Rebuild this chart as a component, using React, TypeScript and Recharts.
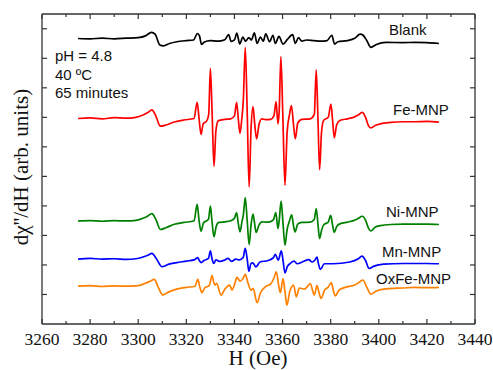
import React from "react";
import { LineChart, Line, XAxis, YAxis } from "recharts";

// field (Oe) / signal (arb. units, stacked offsets)
const blankH = [3275, 3280, 3285, 3290, 3295, 3300, 3303, 3305.5, 3307, 3309, 3310.5, 3313, 3316, 3320, 3323, 3324.6, 3325.5, 3326.3, 3327.5, 3330, 3333, 3336, 3337.6, 3338.6, 3340, 3341, 3342.2, 3343.5, 3344.6, 3346, 3347, 3348.3, 3349.4, 3350.8, 3352, 3353, 3354.6, 3356, 3357, 3358.5, 3360.2, 3362, 3364.2, 3365.3, 3366.6, 3368, 3370, 3373, 3376, 3378.5, 3380.5, 3381.6, 3383, 3387, 3390, 3392.3, 3393.5, 3395, 3396.7, 3399, 3403, 3410, 3415, 3420, 3425];
const blankY = [9.67, 9.66, 9.68, 9.66, 9.68, 9.70, 9.76, 9.88, 9.82, 9.45, 9.42, 9.50, 9.56, 9.60, 9.62, 9.84, 9.75, 9.47, 9.55, 9.60, 9.58, 9.63, 9.80, 9.57, 9.62, 9.85, 9.49, 9.72, 9.58, 9.70, 9.62, 9.86, 9.50, 9.72, 9.58, 9.83, 9.56, 9.78, 9.50, 9.74, 9.48, 9.64, 9.80, 9.50, 9.70, 9.58, 9.62, 9.60, 9.58, 9.60, 9.78, 9.48, 9.56, 9.60, 9.68, 9.82, 9.78, 9.60, 9.37, 9.47, 9.54, 9.53, 9.54, 9.53, 9.50];

const feH = [3275, 3280, 3285, 3290, 3295, 3299, 3302, 3304, 3305.7, 3307.3, 3309.2, 3311.5, 3315, 3319, 3323.2, 3324.5, 3325.3, 3326.1, 3327, 3328.5, 3329.3, 3330, 3330.7, 3331.5, 3332.3, 3333.3, 3336, 3338.4, 3340, 3340.9, 3341.6, 3342.3, 3343, 3343.7, 3344.5, 3345.3, 3346.1, 3346.9, 3347.7, 3348.4, 3349.2, 3350.2, 3351.4, 3353, 3355, 3356.4, 3357.3, 3358.1, 3358.6, 3359.3, 3360.1, 3361, 3361.9, 3362.9, 3363.7, 3364.5, 3365.3, 3366.3, 3368, 3371.5, 3373.2, 3374, 3374.7, 3375.4, 3376.2, 3377.1, 3379, 3380.1, 3380.8, 3381.5, 3382.5, 3384, 3387, 3389.5, 3391.5, 3393.1, 3394.5, 3395.7, 3396.7, 3398.5, 3400.6, 3405, 3410, 3415, 3420, 3425];
const feY = [6.96, 6.98, 6.95, 6.99, 6.97, 7.0, 7.08, 7.16, 7.25, 7.05, 6.70, 6.74, 6.84, 6.91, 6.96, 7.51, 6.95, 6.42, 6.78, 6.88, 7.1, 8.66, 7.2, 5.34, 6.55, 6.89, 6.93, 6.95, 7.05, 7.51, 6.95, 6.46, 6.9, 7.6, 9.37, 7.2, 4.64, 6.6, 7.36, 6.8, 6.27, 6.75, 6.95, 6.92, 6.93, 7.05, 7.53, 6.78, 7.2, 9.06, 7.1, 4.70, 6.5, 7.1, 7.40, 6.8, 6.27, 6.8, 6.93, 6.95, 7.1, 8.61, 7.0, 5.23, 6.5, 6.90, 7.0, 7.45, 6.9, 6.31, 6.75, 6.90, 6.95, 7.0, 7.08, 7.17, 7.0, 6.72, 6.64, 6.72, 6.78, 6.83, 6.85, 6.85, 6.86, 6.84];

const niH = [3275, 3280, 3285, 3290, 3295, 3299, 3302, 3304, 3305.7, 3307.3, 3309.2, 3311.5, 3315, 3319, 3323.2, 3324.5, 3325.3, 3326.1, 3327.1, 3329.2, 3330, 3330.7, 3331.5, 3332.4, 3333.5, 3336, 3338.5, 3340, 3340.9, 3341.6, 3342.3, 3343.1, 3343.7, 3344.5, 3345.3, 3346.1, 3346.9, 3347.7, 3348.4, 3349, 3350.2, 3351.4, 3353, 3355, 3356.3, 3357.2, 3358.1, 3358.6, 3359.4, 3360.2, 3361, 3361.9, 3362.9, 3363.8, 3364.5, 3365.2, 3366.3, 3368, 3371.5, 3373.2, 3374, 3374.7, 3375.4, 3376.3, 3377.2, 3379, 3380, 3380.8, 3381.5, 3382.5, 3384, 3387, 3389.5, 3391.5, 3393.1, 3394.5, 3395.7, 3396.7, 3398.5, 3400.6, 3405, 3410, 3415, 3420, 3425];
const niY = [3.49, 3.50, 3.48, 3.50, 3.49, 3.51, 3.58, 3.66, 3.74, 3.55, 3.20, 3.26, 3.38, 3.44, 3.49, 4.05, 3.50, 3.14, 3.42, 3.55, 3.99, 3.45, 2.95, 3.30, 3.44, 3.46, 3.50, 3.58, 3.77, 3.40, 3.12, 3.45, 3.70, 4.28, 3.5, 2.69, 3.35, 3.72, 3.40, 3.10, 3.35, 3.46, 3.45, 3.47, 3.55, 3.77, 3.23, 3.5, 4.16, 3.4, 2.67, 3.2, 3.5, 3.70, 3.35, 3.12, 3.38, 3.44, 3.45, 3.55, 3.91, 3.40, 2.89, 3.2, 3.37, 3.45, 3.68, 3.35, 3.10, 3.30, 3.40, 3.45, 3.50, 3.58, 3.65, 3.52, 3.25, 3.15, 3.28, 3.33, 3.37, 3.38, 3.38, 3.38, 3.37];

const mnH = [3275, 3280, 3285, 3290, 3295, 3299, 3302, 3304, 3305.7, 3307.5, 3309.9, 3312.5, 3316, 3320, 3323.5, 3324.7, 3325.4, 3326.2, 3327.3, 3329.2, 3330, 3330.7, 3331.4, 3332.3, 3334, 3336, 3337.4, 3338.8, 3340.6, 3342, 3343.6, 3344.5, 3345.3, 3346, 3346.9, 3347.7, 3348.9, 3350.6, 3354, 3356.2, 3357, 3358.2, 3359.5, 3360.2, 3361, 3362, 3363, 3364.8, 3366.1, 3368.2, 3370.9, 3372.3, 3373.5, 3374.3, 3374.9, 3375.7, 3377.4, 3381, 3388, 3391.5, 3393, 3394.5, 3396, 3398, 3402, 3410, 3415, 3420, 3425];
const mnY = [2.20, 2.22, 2.20, 2.21, 2.19, 2.21, 2.27, 2.33, 2.39, 2.22, 1.94, 2.02, 2.08, 2.13, 2.18, 2.25, 2.15, 2.08, 2.15, 2.22, 2.48, 2.20, 2.05, 2.17, 2.12, 2.17, 2.22, 2.12, 2.20, 2.17, 2.25, 2.56, 2.2, 1.79, 2.05, 2.07, 1.93, 2.10, 2.15, 2.25, 2.36, 2.16, 2.48, 2.15, 1.73, 1.95, 2.04, 2.13, 2.04, 2.10, 2.18, 2.10, 2.17, 2.27, 2.05, 1.85, 2.04, 2.04, 2.10, 2.21, 2.30, 2.15, 1.88, 1.96, 2.03, 2.05, 2.05, 2.05, 2.04];

const oxH = [3275, 3280, 3285, 3290, 3295, 3300, 3303, 3305, 3306.7, 3308.3, 3310.2, 3312.5, 3316, 3320, 3323.6, 3324.8, 3325.6, 3326.5, 3327.6, 3329.5, 3330.7, 3331.4, 3332, 3332.6, 3334.4, 3336, 3338, 3339, 3340.2, 3341, 3342.4, 3343.6, 3344.5, 3345.6, 3346.9, 3347.8, 3349.4, 3350.8, 3352.8, 3355, 3356.4, 3357.4, 3358.4, 3359.1, 3360.2, 3361, 3361.8, 3363, 3364.6, 3365.7, 3367, 3369, 3370.5, 3371.5, 3373.2, 3374.3, 3375.2, 3376, 3377.5, 3379, 3380.3, 3381.2, 3381.9, 3383.5, 3386, 3390, 3392, 3393.4, 3395, 3396.7, 3399, 3403, 3410, 3415, 3420, 3425];
const oxY = [1.28, 1.30, 1.27, 1.29, 1.28, 1.30, 1.38, 1.45, 1.51, 1.25, 0.98, 1.08, 1.18, 1.24, 1.28, 1.51, 1.25, 1.06, 1.22, 1.30, 1.64, 1.40, 1.32, 1.38, 0.98, 1.18, 1.32, 1.15, 1.38, 1.58, 1.45, 1.55, 1.68, 1.40, 1.15, 1.20, 0.72, 1.05, 1.26, 1.35, 1.55, 1.77, 1.30, 1.06, 1.54, 1.10, 0.64, 1.10, 1.32, 0.92, 1.22, 1.18, 1.28, 1.37, 0.98, 1.30, 1.05, 0.87, 1.15, 1.25, 1.40, 1.10, 0.95, 1.15, 1.24, 1.32, 1.42, 1.49, 1.25, 1.01, 1.12, 1.19, 1.22, 1.24, 1.23, 1.24];

const xTicks = [3260, 3270, 3280, 3290, 3300, 3310, 3320, 3330, 3340, 3350, 3360, 3370, 3380, 3390, 3400, 3410, 3420, 3430, 3440];
const yTicks = [1, 2, 3, 4, 5, 6, 7, 8, 9, 10];

const series = [
  { name: "Blank", h: blankH, y: blankY, color: "#000000" },
  { name: "Fe-MNP", h: feH, y: feY, color: "#ff0000" },
  { name: "Ni-MNP", h: niH, y: niY, color: "#008000" },
  { name: "Mn-MNP", h: mnH, y: mnY, color: "#0000ff" },
  { name: "OxFe-MNP", h: oxH, y: oxY, color: "#ff8000" },
];

const frame = "#333";
const serif = "'Liberation Serif', 'Times New Roman', serif";
const sans = "'Liberation Sans', Arial, sans-serif";

function BottomTick({ x, y, payload }: any) {
  const major = payload.value % 20 === 0;
  return (
    <g>
      <line x1={x} x2={x} y1={y} y2={y - (major ? 5 : 3)} stroke={frame} strokeWidth={1.2} />
      {major && (
        <text x={x} y={y + 21} textAnchor="middle" fontFamily={serif} fontSize={17.5} fill="#111">
          {payload.value}
        </text>
      )}
    </g>
  );
}

function TopTick({ x, y, payload }: any) {
  const major = payload.value % 20 === 0;
  return <line x1={x} x2={x} y1={y} y2={y + (major ? 5 : 3)} stroke={frame} strokeWidth={1.2} />;
}

function LeftTick({ x, y }: any) {
  return <line x1={x} x2={x + 5} y1={y} y2={y} stroke={frame} strokeWidth={1.2} />;
}

function RightTick({ x, y }: any) {
  return <line x1={x} x2={x - 5} y1={y} y2={y} stroke={frame} strokeWidth={1.2} />;
}

const labels = [
  { text: "Blank", left: 389, cy: 30 },
  { text: "Fe-MNP", left: 393, cy: 110 },
  { text: "Ni-MNP", left: 386, cy: 212 },
  { text: "Mn-MNP", left: 382, cy: 252 },
  { text: "OxFe-MNP", left: 376, cy: 279 },
];

export default function App() {
  return (
    <div style={{ position: "absolute", left: 0, top: 0, width: 493, height: 370, background: "#fff", overflow: "hidden" }}>
      <LineChart width={493} height={370} margin={{ top: 4, right: 8, bottom: 16, left: 12 }}>
        <XAxis
          xAxisId="b" type="number" dataKey="h" domain={[3260, 3440]} ticks={xTicks}
          allowDataOverflow interval={0} height={30} tickSize={0} tickMargin={0}
          tickLine={false} axisLine={{ stroke: frame, strokeWidth: 1.3 }} tick={<BottomTick />}
        />
        <XAxis
          xAxisId="t" orientation="top" type="number" dataKey="h" domain={[3260, 3440]} ticks={xTicks}
          allowDataOverflow interval={0} height={10} tickSize={0} tickMargin={0}
          tickLine={false} axisLine={{ stroke: frame, strokeWidth: 1.3 }} tick={<TopTick />}
        />
        <YAxis
          yAxisId="l" type="number" domain={[0, 10.5]} ticks={yTicks}
          allowDataOverflow interval={0} width={30} tickSize={0} tickMargin={0}
          tickLine={false} axisLine={{ stroke: frame, strokeWidth: 1.3 }} tick={<LeftTick />}
        />
        <YAxis
          yAxisId="r" orientation="right" type="number" domain={[0, 10.5]} ticks={yTicks}
          allowDataOverflow interval={0} width={10} tickSize={0} tickMargin={0}
          tickLine={false} axisLine={{ stroke: frame, strokeWidth: 1.3 }} tick={<RightTick />}
        />
        {series.map((s) => (
          <Line
            key={s.name}
            xAxisId="b"
            yAxisId="l"
            data={s.h.map((h, i) => ({ h, y: s.y[i] }))}
            dataKey="y"
            type="monotone"
            stroke={s.color}
            strokeWidth={1.7}
            strokeLinejoin="round"
            dot={false}
            activeDot={false}
            isAnimationActive={false}
          />
        ))}
      </LineChart>

      <div style={{ position: "absolute", left: 55, top: 47, fontFamily: sans, fontSize: 15, lineHeight: "18.5px", color: "#111" }}>
        <div>pH = 4.8</div>
        <div>40 ºC</div>
        <div>65 minutes</div>
      </div>

      {labels.map((l) => (
        <div
          key={l.text}
          style={{ position: "absolute", left: l.left, top: l.cy - 9, fontFamily: sans, fontSize: 15, lineHeight: "18px", color: "#111", whiteSpace: "nowrap" }}
        >
          {l.text}
        </div>
      ))}

      <div
        style={{
          position: "absolute", left: 21, top: 167, transform: "translate(-50%, -50%) rotate(-90deg)",
          fontFamily: serif, fontSize: 21, lineHeight: "24px", whiteSpace: "nowrap", color: "#111",
        }}
      >
        dχ''/dH (arb. units)
      </div>

      <div
        style={{
          position: "absolute", left: 258, top: 346, transform: "translateX(-50%)",
          fontFamily: serif, fontSize: 21, lineHeight: "24px", whiteSpace: "nowrap", color: "#111",
        }}
      >
        H (Oe)
      </div>
    </div>
  );
}
